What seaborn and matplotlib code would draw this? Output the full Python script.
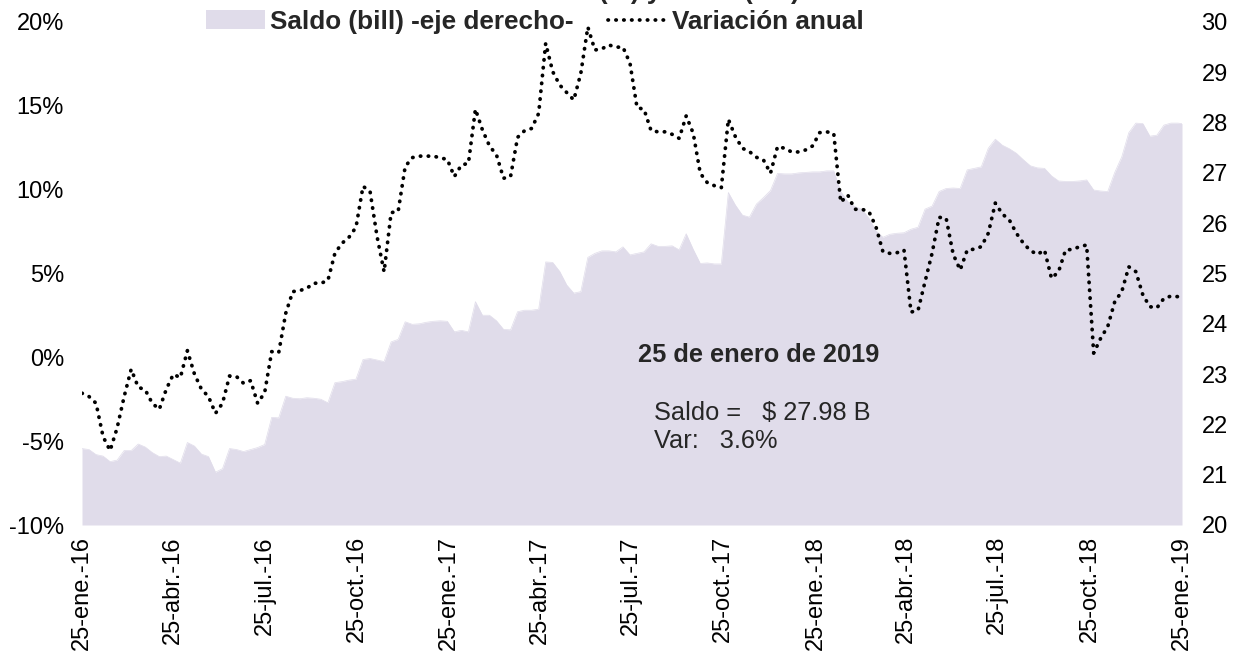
import matplotlib
matplotlib.use("Agg")
import matplotlib.pyplot as plt
import seaborn as sns
import pandas as pd
import numpy as np
from matplotlib.patches import Patch
from matplotlib.lines import Line2D

sns.set_theme(style="white")
plt.rcParams['font.family'] = ['Liberation Sans', 'DejaVu Sans']

# ---- data ----
fechas = list(pd.date_range('2016-01-25', periods=157, freq='7D')) + [pd.Timestamp('2019-01-25')]

variacion = [
    -2.14, -2.34, -2.74, -4.73, -5.56, -4.21, -2.34, -0.71, -1.78, -1.94,
    -2.74, -3.10, -1.90, -1.01, -1.21, 0.40, -0.99, -1.90, -2.34, -3.34,
    -2.74, -1.11, -1.15, -1.55, -1.39, -2.74, -2.10, 0.34, 0.28, 2.63,
    3.92, 3.98, 4.12, 4.42, 4.42, 4.58, 6.21, 6.80, 7.16, 7.76,
    10.20, 9.90, 7.20, 5.10, 8.63, 8.70, 11.37, 11.91, 12.00, 12.00,
    12.00, 11.90, 11.80, 10.78, 11.47, 11.57, 14.80, 13.56, 12.61, 12.07,
    10.68, 10.78, 13.12, 13.52, 13.65, 14.55, 18.73, 17.04, 16.24, 15.79,
    15.35, 16.94, 19.70, 18.33, 18.40, 18.63, 18.50, 18.50, 17.54, 14.90,
    14.79, 13.52, 13.45, 13.45, 13.30, 13.06, 14.40, 13.36, 10.98, 10.42,
    10.24, 10.12, 14.20, 13.16, 12.47, 12.27, 11.93, 11.77, 10.98, 12.57,
    12.47, 12.25, 12.25, 12.37, 12.61, 13.40, 13.45, 13.36, 9.25, 9.68,
    8.83, 8.83, 8.70, 7.80, 6.30, 6.20, 6.24, 6.40, 2.70, 2.80,
    4.52, 6.21, 8.35, 8.30, 6.15, 5.21, 6.40, 6.45, 6.60, 7.40,
    9.20, 8.55, 8.19, 7.40, 6.80, 6.36, 6.14, 6.40, 4.71, 5.11,
    6.40, 6.44, 6.60, 6.70, 0.25, 1.14, 1.83, 3.32, 3.92, 5.40,
    5.11, 3.72, 3.02, 2.95, 3.52, 3.65, 3.62, 3.60,
]

saldo = [
    21.52, 21.50, 21.40, 21.37, 21.26, 21.29, 21.48, 21.48, 21.61, 21.55,
    21.44, 21.36, 21.37, 21.30, 21.23, 21.64, 21.57, 21.41, 21.36, 21.05,
    21.12, 21.52, 21.50, 21.46, 21.50, 21.54, 21.60, 22.14, 22.13, 22.56,
    22.52, 22.51, 22.53, 22.52, 22.50, 22.43, 22.83, 22.85, 22.88, 22.90,
    23.29, 23.31, 23.28, 23.25, 23.64, 23.69, 24.04, 23.99, 24.00, 24.03,
    24.05, 24.06, 24.05, 23.84, 23.87, 23.84, 24.44, 24.17, 24.17, 24.06,
    23.89, 23.88, 24.24, 24.27, 24.27, 24.29, 25.23, 25.22, 25.04, 24.77,
    24.61, 24.64, 25.32, 25.40, 25.45, 25.45, 25.43, 25.53, 25.37, 25.40,
    25.43, 25.59, 25.54, 25.54, 25.55, 25.47, 25.79, 25.48, 25.20, 25.21,
    25.19, 25.19, 26.61, 26.36, 26.16, 26.12, 26.38, 26.51, 26.65, 26.99,
    26.98, 26.98, 27.00, 27.01, 27.02, 27.02, 27.04, 27.04, 26.63, 26.43,
    26.33, 26.28, 26.10, 25.85, 25.72, 25.78, 25.80, 25.81, 25.88, 25.92,
    26.28, 26.34, 26.63, 26.69, 26.70, 26.69, 27.06, 27.09, 27.12, 27.49,
    27.67, 27.55, 27.48, 27.39, 27.26, 27.14, 27.10, 27.09, 26.94, 26.84,
    26.83, 26.83, 26.84, 26.86, 26.66, 26.64, 26.63, 27.01, 27.32, 27.80,
    27.99, 27.98, 27.73, 27.75, 27.95, 27.99, 27.99, 27.98,
]

tick_fechas = list(pd.date_range('2016-01-01', periods=13, freq='3MS') + pd.Timedelta(days=24))
tick_etiquetas = ['25-ene.-16', '25-abr.-16', '25-jul.-16', '25-oct.-16',
                  '25-ene.-17', '25-abr.-17', '25-jul.-17', '25-oct.-17',
                  '25-ene.-18', '25-abr.-18', '25-jul.-18', '25-oct.-18',
                  '25-ene.-19']
izq_ticks = [-10, -5, 0, 5, 10, 15, 20]
izq_etiquetas = ['-10%', '-5%', '0%', '5%', '10%', '15%', '20%']
der_ticks = [20, 21, 22, 23, 24, 25, 26, 27, 28, 29, 30]

df = pd.DataFrame({'fecha': fechas, 'variacion': variacion, 'saldo': saldo})

# ---- figure ----
AREA = '#E0DCEA'
FS_TICK = 17
FS_LEG = 18.8
FS_ANN = 18.3

fig = plt.figure(figsize=(12.34, 6.54), dpi=100)
ax = fig.add_axes([82/1234, 1-525/654, 1100/1234, 503/654])
ax2 = ax.twinx()

# area on right axis (drawn underneath)
ax2.fill_between(df['fecha'], 20, df['saldo'], color=AREA, linewidth=0)
sns.lineplot(data=df, x='fecha', y='saldo', ax=ax2, color=AREA, linewidth=0.5)

# dotted line on left axis (on top)
sns.lineplot(data=df, x='fecha', y='variacion', ax=ax, color='black',
             linewidth=2.7, linestyle=(0, (0.1, 2.0)), dash_capstyle='round')
ax.set_zorder(ax2.get_zorder() + 1)
ax.patch.set_visible(False)

ax.set_xticks(tick_fechas)
ax.set_xticklabels(tick_etiquetas, rotation=90, fontsize=FS_TICK)
ax.set_xlim(pd.Timestamp('2016-01-25'), pd.Timestamp('2019-01-25'))
ax.set_yticks(izq_ticks)
ax.set_yticklabels(izq_etiquetas, fontsize=FS_TICK)
ax2.set_yticks(der_ticks)
ax2.set_yticklabels([str(v) for v in der_ticks], fontsize=FS_TICK)
ax2.set_ylim(20, 30)
ax.set_ylim(-10, 20)

for a in (ax, ax2):
    a.set_xlabel('')
    a.set_ylabel('')
    for s in a.spines.values():
        s.set_visible(False)
    a.grid(False)
ax.tick_params(axis='y', length=0, pad=13, colors='black')
ax.tick_params(axis='x', length=0, pad=8, colors='black')
ax2.tick_params(axis='y', length=0, pad=14, colors='black')

# legend
handles = [Patch(facecolor=AREA, edgecolor='none'),
           Line2D([0], [0], color='black', linewidth=2.7,
                  linestyle=(0, (0.1, 2.0)), dash_capstyle='round')]
leg = fig.legend(handles, ['Saldo (bill) -eje derecho-', 'Variación anual'],
                 loc='center', bbox_to_anchor=(535/1234, 1-22/654), ncol=2,
                 frameon=False, prop={'weight': 'bold', 'size': FS_LEG},
                 handlelength=2.26, handleheight=0.73, handletextpad=0.19,
                 columnspacing=1.34, borderpad=0, borderaxespad=0)

# title clipped at the very top (only its lower edge is visible)
fig.text(800/1234, 1 + 1.5/654, 'Variación anual (%) y saldo (bill)', ha='right',
         va='baseline', fontsize=FS_LEG, fontweight='bold')

# annotation
fig.text(638/1234, 1-355/654, '25 de enero de 2019', fontsize=FS_ANN, fontweight='bold',
         va='center', ha='left')
fig.text(654/1234, 1-413/654, 'Saldo =   $ 27.98 B', fontsize=FS_ANN, va='center', ha='left')
fig.text(654/1234, 1-441/654, 'Var:   3.6%', fontsize=FS_ANN, va='center', ha='left')

fig.savefig('out.png', dpi=100)
